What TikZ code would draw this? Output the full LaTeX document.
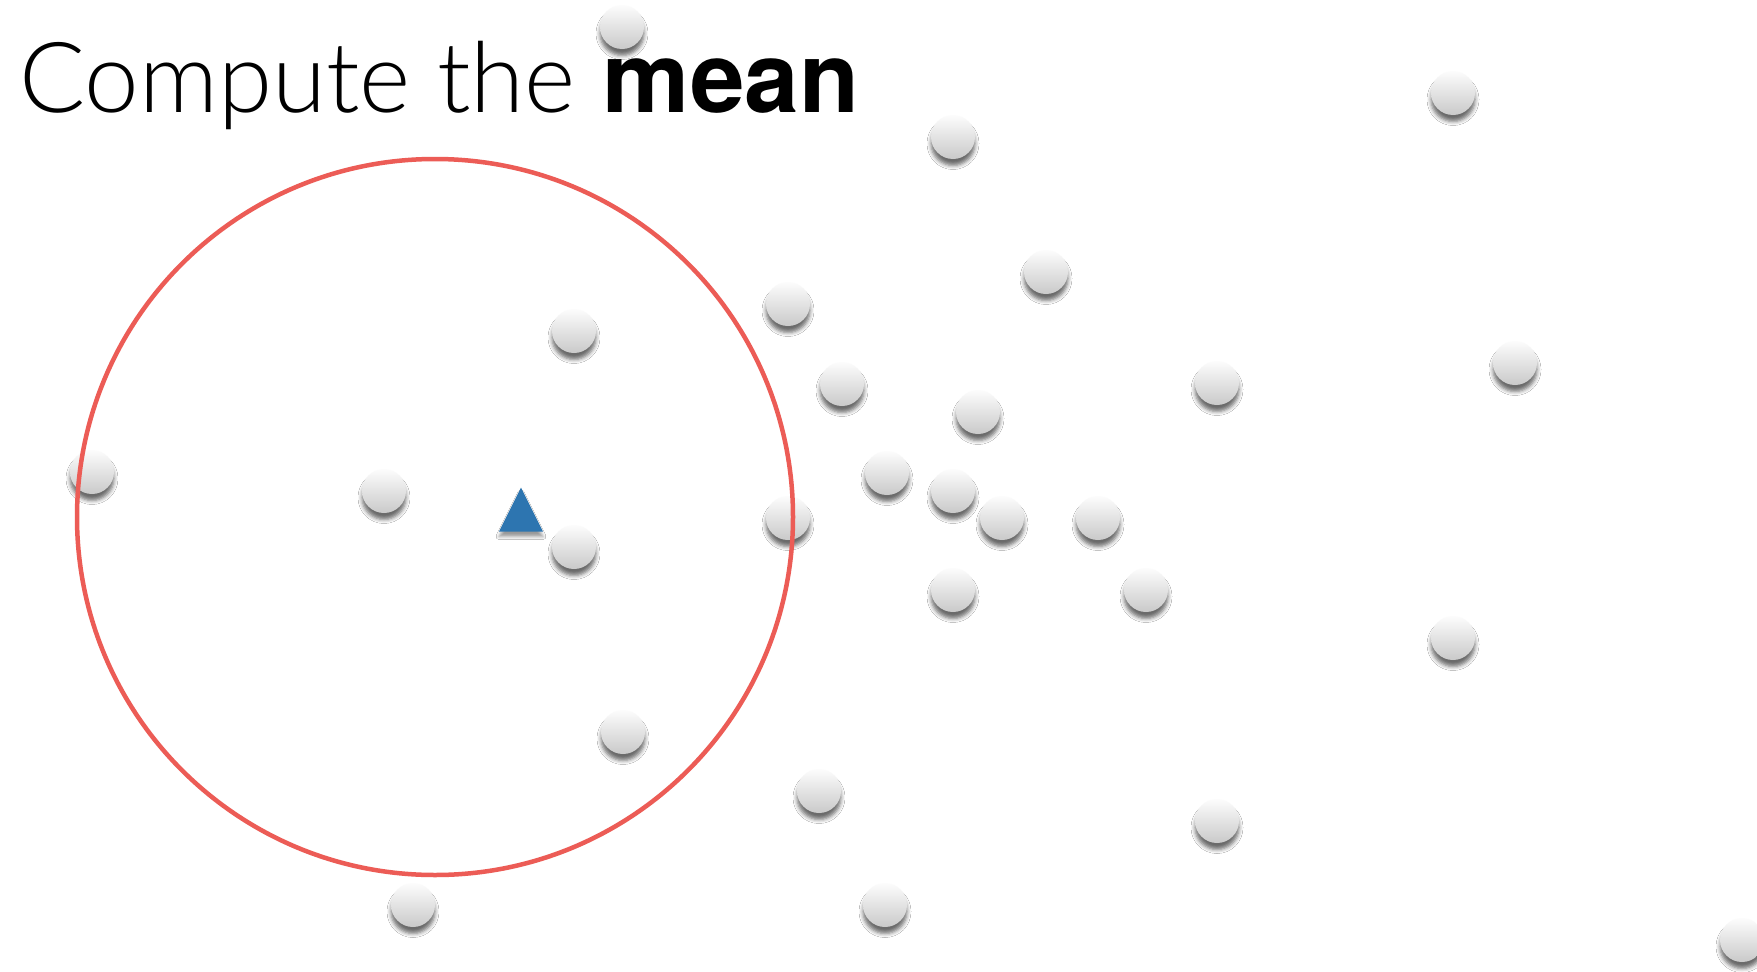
\documentclass[tikz,border=0pt]{standalone}
\usepackage{fontspec}
\setmainfont{TeX Gyre Heros}
\newfontfamily\lightfont{Lato}[UprightFont={* Light}]
\usetikzlibrary{shapes.geometric,shadows.blur}
\definecolor{ringred}{RGB}{236,92,86}
\definecolor{meanblue}{RGB}{45,117,176}
\tikzset{
  ball/.style={circle, minimum size=44pt, inner sep=0pt,
    top color=black!1, bottom color=black!21, draw=none,
    blur shadow={shadow xshift=0pt, shadow yshift=-6.5pt, shadow blur radius=4pt, shadow opacity=58}},
  meanmark/.style={isosceles triangle, isosceles triangle stretches, shape border rotate=90,
    minimum width=44pt, minimum height=44pt, inner sep=0pt, fill=meanblue, draw=none,
    blur shadow={shadow xshift=0pt, shadow yshift=-5pt, shadow blur radius=3pt, shadow opacity=40}},
  ring/.style={circle, draw=ringred, line width=4.5pt, minimum size=716pt, inner sep=0pt},
  title/.style={anchor=base west, inner sep=0pt, font=\fontsize{98}{112}\selectfont}
}
\begin{document}
\begin{tikzpicture}[x=1pt,y=-1pt]
\fill[white] (0,0) rectangle (1757,972);
\useasboundingbox (0,0) rectangle (1757,972);
\foreach \px/\py [count=\i] in {622/27, 1453/93, 953/137, 1046/272, 788/304, 574/331, 1515/363,
  842/384, 1217/383, 978/412, 92/472, 384/491, 887/473, 953/491, 1002/518, 1098/518,
  788/518, 574/547, 953/590, 1146/590, 1453/638, 623/732, 819/791, 1217/821, 413/905,
  885/905, 1742/940}
  {\node[ball] (b\i) at (\px,\py) {};}
\node[meanmark] (m) at (521,518) {};
\node[ring] (r) at (435,517) {};
\node[title] (t) at (19,112) {{\lightfont Compute the} \textbf{mean}};
\end{tikzpicture}
\end{document}
